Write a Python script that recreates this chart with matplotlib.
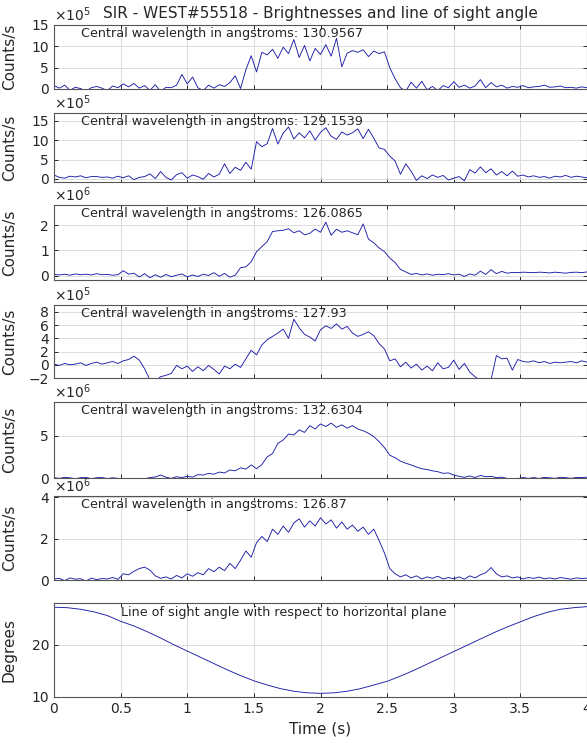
import numpy as np
import matplotlib.pyplot as plt

# time base (s)
time = np.linspace(0, 4, 101)

wavelengths = ["130.9567", "129.1539", "126.0865", "127.93", "132.6304", "126.87"]
exponents = [5, 5, 6, 5, 6, 6]

# brightness series (in units of 10^exponent counts/s)
b1 = [0.8, 0.2, 0.9, -0.3, 0.4, 0.1, -0.5, 0.3, 0.6, 0.2,
      -0.4, 0.7, 0.3, 1.2, 0.5, 1.3, 0.2, 0.8, -0.3, 1.0,
      -0.6, 0.4, 0.3, 0.9, 3.4, 1.2, 2.8, 0.3, -0.4, 0.9,
      0.2, 1.0, 0.6, 1.5, 3.1, 0.1, 4.5, 7.8, 4.0, 8.6,
      8.0, 9.3, 7.2, 9.8, 8.3, 11.6, 7.4, 10.2, 6.6, 9.5,
      8.1, 10.4, 7.7, 11.9, 5.2, 8.4, 9.0, 8.6, 9.2, 7.6,
      8.9, 8.3, 8.7, 5.0, 2.4, 0.3, -0.5, 1.6, 0.2, 1.8,
      -0.2, 0.6, -0.4, 0.8, 0.3, 1.7, 0.4, 0.9, 0.2, 0.7,
      2.2, 0.3, 1.5, 0.5, 0.9, 0.2, 0.6, 0.4, 0.8, 0.3,
      0.5, 0.6, 0.9, 0.4, 0.5, 0.7, 0.3, 0.4, 0.2, 0.5, 0.3]
b2 = [1.0, 0.4, 0.2, 0.7, 0.5, 0.8, 0.3, 0.6, 0.6, 0.4,
      0.5, 0.2, 0.7, 0.3, 0.8, -0.2, 0.4, 0.6, 1.3, 0.1,
      1.9, 0.4, -0.3, 1.1, 1.6, 0.2, 1.0, 0.6, -0.1, 1.4,
      0.5, 1.2, 3.9, 1.4, 3.0, 2.2, 4.3, 2.5, 9.6, 8.3,
      9.1, 13.0, 9.0, 11.8, 13.4, 10.3, 11.9, 10.6, 12.4, 10.0,
      12.0, 13.2, 11.0, 10.2, 12.1, 11.3, 11.9, 12.9, 10.4, 12.8,
      10.5, 8.0, 7.6, 5.9, 4.6, 1.2, 3.9, 2.0, -0.4, 0.8,
      0.1, 1.0, 0.4, 0.9, -0.3, 0.2, 0.6, -0.5, 2.4, 1.5,
      3.1, 1.6, 2.6, 1.0, 1.9, 0.8, 2.0, 0.7, 1.0, 0.5,
      0.8, 0.4, 0.6, 0.2, 0.7, 0.5, 0.9, 0.4, 0.7, 0.5, 0.3]
b3 = [0.05, 0.03, 0.06, 0.02, 0.07, 0.04, 0.06, 0.03, 0.08, 0.04,
      0.05, 0.02, 0.04, 0.20, 0.06, 0.10, -0.05, 0.08, -0.08, 0.04,
      -0.06, 0.05, -0.04, 0.02, 0.07, -0.05, 0.03, -0.03, 0.06, 0.01,
      0.12, -0.02, 0.09, -0.06, 0.02, 0.32, 0.35, 0.55, 0.95, 1.15,
      1.35, 1.75, 1.78, 1.80, 1.86, 1.70, 1.78, 1.62, 1.68, 1.85,
      1.72, 2.12, 1.60, 1.84, 1.72, 1.78, 1.70, 1.62, 2.05, 1.45,
      1.30, 1.10, 0.95, 0.70, 0.52, 0.25, 0.15, 0.05, 0.09, 0.03,
      0.07, 0.02, 0.06, 0.04, 0.08, 0.03, 0.06, -0.03, 0.07, 0.02,
      0.18, 0.05, 0.24, 0.08, 0.17, 0.10, 0.13, 0.12, 0.14, 0.13,
      0.12, 0.14, 0.13, 0.11, 0.14, 0.12, 0.10, 0.13, 0.14, 0.12, 0.15]
b4 = [0.1, -0.1, 0.2, 0.0, 0.1, 0.3, -0.1, 0.2, 0.4, 0.1,
      0.3, 0.5, 0.2, 0.6, 0.8, 1.3, 0.7, -0.6, -2.3, -2.5,
      -1.8, -1.6, -1.3, -0.1, -0.6, -0.2, -1.0, -0.3, -0.9, -0.1,
      -0.7, -1.4, -0.2, -0.6, 0.1, -0.4, 0.9, 2.2, 1.5, 3.0,
      3.8, 4.3, 4.8, 5.4, 4.0, 6.9, 5.6, 4.6, 4.2, 3.6,
      5.3, 5.9, 5.5, 6.2, 5.4, 5.8, 4.8, 4.3, 4.6, 5.0,
      4.4, 3.2, 2.4, 0.6, 0.9, -0.3, 0.4, -0.5, 0.1, -0.8,
      -0.2, -0.9, 0.3, -0.6, -0.4, 0.7, -0.7, 0.2, -1.1, -1.8,
      -2.4, -2.6, -2.3, 1.4, 0.9, 1.0, -0.8, 0.8, 0.5, 0.4,
      0.6, 0.3, 0.5, 0.2, 0.4, 0.3, 0.4, 0.5, 0.3, 0.6, 0.4]
b5 = [0.05, -0.05, 0.08, 0.02, -0.1, 0.04, 0.06, -0.08, 0.03, 0.05,
      -0.06, 0.02, -0.04, -0.15, -0.2, -0.12, -0.18, -0.1, 0.05, 0.12,
      0.35, 0.10, -0.05, 0.15, 0.05, 0.20, 0.10, 0.40, 0.35, 0.55,
      0.45, 0.70, 0.60, 0.95, 0.85, 1.20, 1.05, 1.55, 1.10, 1.60,
      2.50, 2.90, 4.10, 4.50, 5.20, 5.10, 5.70, 5.40, 6.20, 5.80,
      6.40, 6.10, 6.50, 6.00, 6.30, 5.90, 6.20, 5.80, 5.60, 5.30,
      4.90, 4.30, 3.60, 2.70, 2.40, 2.00, 1.75, 1.55, 1.30, 1.10,
      1.00, 0.85, 0.75, 0.55, 0.60, 0.35, 0.20, 0.08, 0.25, 0.05,
      0.30, 0.15, 0.20, 0.05, 0.10, -0.05, -0.15, -0.08, 0.06, -0.05,
      0.05, -0.06, 0.07, 0.02, -0.05, 0.08, 0.04, -0.04, 0.06, 0.05, 0.10]
b6 = [0.05, 0.08, -0.03, 0.10, 0.04, 0.06, -0.05, 0.09, 0.02, 0.07,
      0.05, 0.12, 0.03, 0.30, 0.25, 0.42, 0.55, 0.62, 0.48, 0.20,
      0.08, 0.15, 0.05, 0.22, 0.10, 0.30, 0.18, 0.35, 0.25, 0.55,
      0.40, 0.62, 0.45, 0.80, 0.55, 0.95, 1.40, 1.10, 1.80, 2.10,
      1.85, 2.45, 2.20, 2.60, 2.30, 2.75, 2.95, 2.55, 2.85, 2.60,
      3.00, 2.70, 2.90, 2.50, 2.80, 2.45, 2.65, 2.35, 2.55, 2.20,
      2.45, 1.90, 1.30, 0.55, 0.30, 0.15, 0.25, 0.10, 0.20, 0.05,
      0.15, 0.08, 0.18, 0.05, 0.12, 0.06, 0.15, 0.04, 0.20, 0.10,
      0.25, 0.35, 0.60, 0.30, 0.15, 0.20, 0.10, 0.15, 0.05, 0.12,
      0.08, 0.14, 0.06, 0.10, 0.05, 0.12, 0.08, 0.04, 0.10, 0.07, 0.09]
brightness = [b1, b2, b3, b4, b5, b6]

# line of sight angle (degrees), sampled every 0.1 s
angle_time = np.linspace(0, 4, 41)
angle = [27.2, 27.1, 26.8, 26.3, 25.6, 24.5, 23.6, 22.5, 21.3, 20.0,
         18.8, 17.6, 16.4, 15.2, 14.1, 13.1, 12.3, 11.6, 11.1, 10.8,
         10.7, 10.8, 11.1, 11.6, 12.3, 13.0, 14.0, 15.1, 16.3, 17.5,
         18.7, 19.9, 21.1, 22.3, 23.4, 24.4, 25.4, 26.2, 26.8, 27.1, 27.3]

ylims = [(0, 15), (-0.8, 17), (-0.17, 2.8), (-2, 9.05), (0, 9), (0, 4.05)]
yticks = [[0, 5, 10, 15], [0, 5, 10, 15], [0, 1, 2], [-2, 0, 2, 4, 6, 8], [0, 5], [0, 2, 4]]

# axes boxes in pixels (top, bottom) of a 743 px tall figure
boxes = [(25, 89), (113, 182), (205, 280), (305, 378), (402, 478), (496, 580), (603, 697)]

W, H = 587, 743
fig = plt.figure(figsize=(W / 100, H / 100), dpi=100)
line_col = '#1c1ca8'
txt_col = '#262626'
ylab_x = (17 - 54) / 533

axes = []
for top, bot in boxes:
    ax = fig.add_axes([54 / W, 1 - bot / H, 533 / W, (bot - top) / H])
    ax.set_xlim(0, 4)
    ax.set_xticks(np.arange(0, 4.01, 0.5))
    ax.grid(True, color='#dcdcdc', lw=0.7)
    ax.set_axisbelow(True)
    ax.tick_params(direction='in', top=True, right=True, length=3,
                   labelsize=10, colors=txt_col, width=0.7)
    for s in ax.spines.values():
        s.set_color('#555555')
        s.set_linewidth(0.8)
    axes.append(ax)

for k in range(6):
    ax = axes[k]
    ax.plot(time, brightness[k], color=line_col, lw=0.65)
    ax.set_ylim(*ylims[k])
    ax.set_yticks(yticks[k])
    ax.set_xticklabels([])
    ax.set_ylabel('Counts/s', fontsize=11, color=txt_col)
    ax.yaxis.set_label_coords(ylab_x, 0.5)
    ax.text(0, 1.015, r'$\times$10$^{%d}$' % exponents[k], transform=ax.transAxes,
            fontsize=10, color=txt_col, va='bottom', ha='left')
    ax.annotate('Central wavelength in angstroms: ' + wavelengths[k],
                xy=(0.2, 1), xycoords=('data', 'axes fraction'),
                xytext=(0, -6), textcoords='offset points',
                fontsize=9.2, color=txt_col, va='center', ha='left')

ax = axes[6]
ax.plot(angle_time, angle, color=line_col, lw=0.65)
ax.set_ylim(10, 28)
ax.set_yticks([10, 20])
ax.set_ylabel('Degrees', fontsize=11, color=txt_col)
ax.yaxis.set_label_coords(ylab_x, 0.5)
ax.set_xticklabels(['0', '0.5', '1', '1.5', '2', '2.5', '3', '3.5', '4'])
ax.set_xlabel('Time (s)', fontsize=11, color=txt_col, labelpad=4)
ax.annotate('Line of sight angle with respect to horizontal plane',
            xy=(0.5, 1), xycoords=('data', 'axes fraction'),
            xytext=(0, -7), textcoords='offset points',
            fontsize=9.2, color=txt_col, va='center', ha='left')

axes[0].set_title('SIR - WEST#55518 - Brightnesses and line of sight angle',
                  fontsize=11, color=txt_col, pad=5)

fig.savefig('out.png', dpi=100)
